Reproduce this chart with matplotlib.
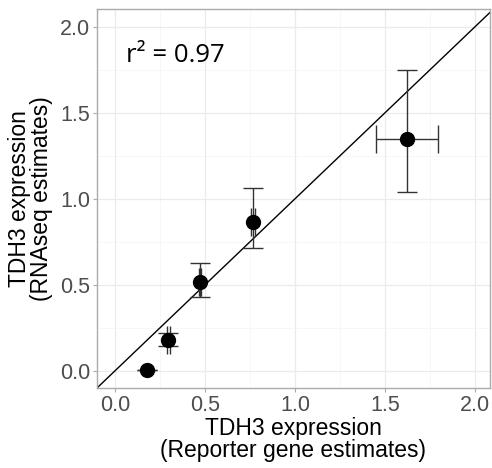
import matplotlib
matplotlib.use("Agg")
import matplotlib.pyplot as plt
import numpy as np

# reporter gene estimates (x) vs RNAseq estimates (y)
reporter = [0.18, 0.295, 0.472, 0.767, 1.622]
rnaseq = [0.005, 0.18, 0.517, 0.866, 1.349]
reporter_err = [np.nan, 0.008, 0.008, 0.012, 0.17]
rnaseq_lower = [0.005, 0.145, 0.430, 0.715, 1.04]
rnaseq_upper = [0.005, 0.221, 0.628, 1.064, 1.75]
ticks = [0.0, 0.5, 1.0, 1.5, 2.0]

plt.rcParams['font.family'] = ['Liberation Sans', 'DejaVu Sans']

fig = plt.figure(figsize=(4.92, 4.68), dpi=100)
ax = fig.add_axes([97/492, 80/468, 393/492, 378.5/468])

# grid like ggplot
ax.set_xticks(ticks)
ax.set_yticks(ticks)
ax.set_xticks(np.arange(-0.25, 2.1, 0.5), minor=True)
ax.set_yticks(np.arange(-0.25, 2.1, 0.5), minor=True)
ax.set_xlim(-0.1, 2.083)
ax.set_ylim(-0.1, 2.1)
ax.grid(which='major', color='#EBEBEB', lw=0.9)
ax.grid(which='minor', color='#F4F4F4', lw=0.5)
ax.set_axisbelow(True)
for s in ax.spines.values():
    s.set_color('#ABABAB')
    s.set_linewidth(1.0)
ax.tick_params(which='major', length=3, color='#ABABAB', labelsize=15.5, labelcolor='#4D4D4D', pad=2)
ax.tick_params(which='minor', length=0)
ax.set_xticklabels([f"{t:.1f}" for t in ticks])
ax.set_yticklabels([f"{t:.1f}" for t in ticks])

# identity line
ax.plot([-0.1, 2.2], [-0.1, 2.2], color='black', lw=1.0, zorder=2)

# y error bars (asymmetric intervals)
yerr = [np.array(rnaseq) - np.array(rnaseq_lower), np.array(rnaseq_upper) - np.array(rnaseq)]
ax.errorbar(reporter, rnaseq, yerr=yerr, fmt='none', ecolor='#333333',
            elinewidth=1.0, capsize=7.5, capthick=1.0, zorder=3)
# x error bars
ax.errorbar(reporter, rnaseq, xerr=reporter_err, fmt='none', ecolor='#333333',
            elinewidth=1.0, capsize=10, capthick=1.0, zorder=3)
ax.plot(reporter, rnaseq, 'o', color='black', markersize=10, zorder=4)

ax.text(0.06, 1.83, "r² = 0.97", fontsize=18.5, family=['Open Sans', 'DejaVu Sans'],
        ha='left', va='center')

ax.set_xlabel("TDH3 expression\n(Reporter gene estimates)", fontsize=16.5, labelpad=1, linespacing=0.95)
ax.set_ylabel("TDH3 expression\n(RNAseq estimates)", fontsize=16.5, labelpad=5, linespacing=0.95)

fig.savefig("out.png", dpi=100)
